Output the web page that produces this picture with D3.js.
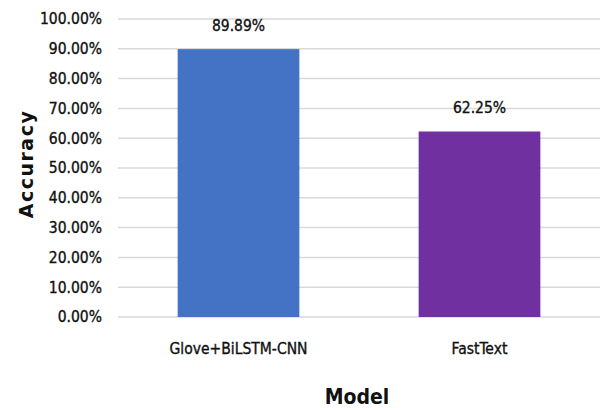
<!DOCTYPE html>
<html><head><meta charset="utf-8">
<script src="https://cdn.jsdelivr.net/npm/d3@7"></script>
<style>
body{margin:0;background:#fff;}
.tk{font-family:"DejaVu Sans Condensed","DejaVu Sans",sans-serif;font-stretch:condensed;fill:#111;}
</style></head><body>
<svg id="c" width="602" height="410"></svg>
<script>
const categories = ["Glove+BiLSTM-CNN", "FastText"];
const accuracy = [89.89, 62.25];
const colors = ["#4472C4", "#7030A0"];
const yTicks = [0,10,20,30,40,50,60,70,80,90,100];
const xTitle = "Model";
const yTitle = "Accuracy";

const svg = d3.select("#c");
const pLeft = 118, pRight = 600, pTop = 19, pBottom = 317;

const x = d3.scaleBand().domain(categories).range([pLeft, pRight]).paddingInner(0.495).paddingOuter(0.2475);
const y = d3.scaleLinear().domain([0, 100]).range([pBottom, pTop]);

// gridlines
svg.append("g").selectAll("line").data(yTicks).join("line")
  .attr("x1", pLeft).attr("x2", pRight)
  .attr("y1", d => y(d)).attr("y2", d => y(d))
  .attr("stroke", "#d9d9d9").attr("stroke-width", 1.5);

// y axis labels
const yAxis = d3.axisLeft(y).tickValues(yTicks).tickSize(0).tickPadding(0)
  .tickFormat(d => d.toFixed(2) + "%");
const gy = svg.append("g").attr("transform", `translate(102,0)`).call(yAxis);
gy.select(".domain").remove();
gy.selectAll("text").attr("class", "tk").attr("font-size", 15.5)
  .attr("stroke", "#111").attr("stroke-width", 0.35);

// bars
svg.append("g").selectAll("rect").data(accuracy).join("rect")
  .attr("x", (d, i) => x(categories[i]))
  .attr("width", x.bandwidth())
  .attr("y", d => y(d))
  .attr("height", d => y(0) - y(d))
  .attr("fill", (d, i) => colors[i]);

// value labels
svg.append("g").selectAll("text").data(accuracy).join("text")
  .attr("class", "tk")
  .attr("x", (d, i) => x(categories[i]) + x.bandwidth() / 2)
  .attr("y", d => y(d) - 18)
  .attr("text-anchor", "middle")
  .attr("font-size", 15.5).attr("stroke", "#111").attr("stroke-width", 0.35)
  .text(d => d.toFixed(2) + "%");

// x axis labels
const xAxis = d3.axisBottom(x).tickSize(0).tickPadding(0);
const gx = svg.append("g").attr("transform", `translate(0,354)`).call(xAxis);
gx.select(".domain").remove();
gx.selectAll("text").attr("class", "tk").attr("font-size", 15.5).attr("dy", 0)
  .attr("stroke", "#111").attr("stroke-width", 0.35);

// axis titles
svg.append("text").attr("class", "tk")
  .attr("x", (pLeft + pRight) / 2 - 2).attr("y", 404)
  .attr("text-anchor", "middle").attr("font-size", 21).attr("font-weight", "bold")
  .text(xTitle);

svg.append("text")
  .attr("transform", `translate(33,164) rotate(-90)`)
  .attr("text-anchor", "middle")
  .attr("font-family", "DejaVu Sans, sans-serif")
  .attr("font-size", 19).attr("font-weight", "bold").attr("letter-spacing", 1.5).attr("fill", "#111")
  .text(yTitle);
</script>
</body></html>
